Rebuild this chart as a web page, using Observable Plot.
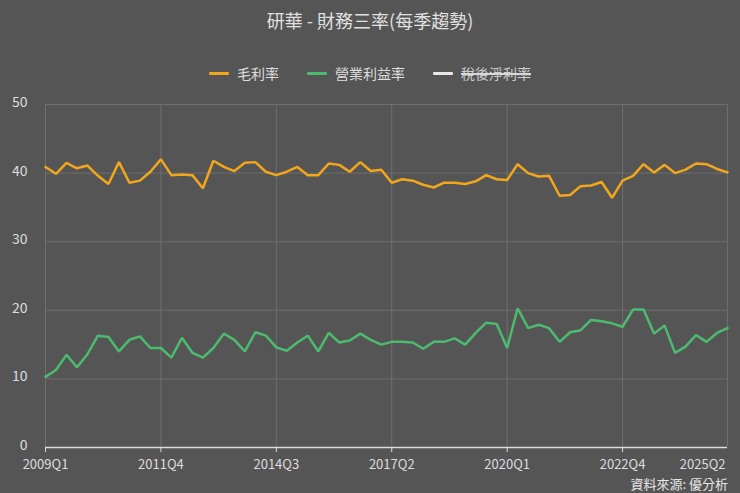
<!DOCTYPE html>
<html>
<head>
<meta charset="utf-8">
<script src="https://cdn.jsdelivr.net/npm/d3@7"></script>
<script src="https://cdn.jsdelivr.net/npm/@observablehq/plot@0.6"></script>
<style>
  html, body { margin: 0; padding: 0; background: #555555; }
  body { width: 740px; height: 493px; overflow: hidden; position: relative;
         font-family: "Noto Sans CJK TC", "Noto Sans", sans-serif; color: #dddddd; }
  #title { position: absolute; left: 0; top: 6px; width: 740px; text-align: center;
           font-size: 18px; line-height: 28px; color: #e0e0e0; }
  #legend { position: absolute; left: 0; top: 62px; width: 740px; display: flex;
            justify-content: center; align-items: center; font-size: 14px; line-height: 22px; }
  .item { display: flex; align-items: center; margin: 0 14px; }
  .swatch { width: 20px; height: 3px; border-radius: 1px; margin-right: 8px; }
  .off { position: relative; color: #cfcfcf; }
  .off::after { content: ""; position: absolute; left: 0; right: 0; top: 11px; height: 1.5px; background: #d8d8d8; }
  #chart { position: absolute; left: 0; top: 90px; }
  #caption { position: absolute; right: 12px; top: 475px; font-size: 13px; line-height: 18px; color: #e6e6e6; }
</style>
</head>
<body>
<div id="title"></div>
<div id="legend"></div>
<div id="chart"></div>
<div id="caption"></div>
<script>
const titleText = "研華 - 財務三率(每季趨勢)";
const captionText = "資料來源: 優分析";
const seriesNames = ["毛利率", "營業利益率", "稅後淨利率"];
const seriesColors = ["#f2a71b", "#4cbb6f", "#e8e8e8"];
const seriesVisible = [true, true, false];

const quarters = [];
for (let y = 2009; y <= 2025; y++) for (let q = 1; q <= 4; q++) {
  if (y === 2025 && q > 2) break;
  quarters.push(y + "Q" + q);
}

const grossMargin = [
  40.9, 39.9, 41.5, 40.7, 41.1, 39.6, 38.4, 41.6, 38.6, 38.9,
  40.2, 42.0, 39.7, 39.8, 39.7, 37.8, 41.8, 40.9, 40.3, 41.5,
  41.6, 40.2, 39.7, 40.2, 40.9, 39.7, 39.7, 41.4, 41.2, 40.2,
  41.6, 40.3, 40.5, 38.6, 39.1, 38.9, 38.3, 37.9, 38.6, 38.6,
  38.4, 38.8, 39.7, 39.1, 39.0, 41.3, 40.0, 39.5, 39.6, 36.7,
  36.8, 38.1, 38.2, 38.7, 36.4, 38.9, 39.6, 41.3, 40.1, 41.2,
  40.0, 40.5, 41.4, 41.3, 40.6, 40.1
];
const operatingMargin = [
  10.3, 11.3, 13.5, 11.7, 13.6, 16.3, 16.1, 14.0, 15.7, 16.2,
  14.5, 14.5, 13.1, 16.0, 13.8, 13.1, 14.5, 16.6, 15.7, 14.0,
  16.8, 16.3, 14.6, 14.1, 15.3, 16.3, 14.0, 16.7, 15.3, 15.6,
  16.6, 15.7, 15.0, 15.4, 15.4, 15.3, 14.4, 15.4, 15.4, 15.9,
  15.0, 16.7, 18.2, 18.0, 14.5, 20.3, 17.4, 17.9, 17.4, 15.4,
  16.8, 17.1, 18.6, 18.4, 18.1, 17.6, 20.1, 20.1, 16.6, 17.8,
  13.8, 14.7, 16.4, 15.4, 16.7, 17.4
];
const yTicks = [0, 10, 20, 30, 40, 50];
const xTickLabels = ["2009Q1", "2011Q4", "2014Q3", "2017Q2", "2020Q1", "2022Q4", "2025Q2"];

document.getElementById("title").textContent = titleText;
document.getElementById("caption").textContent = captionText;
const legend = document.getElementById("legend");
seriesNames.forEach((n, i) => {
  const it = document.createElement("div");
  it.className = "item";
  const sw = document.createElement("span");
  sw.className = "swatch";
  sw.style.background = seriesColors[i];
  const lb = document.createElement("span");
  lb.textContent = n;
  if (!seriesVisible[i]) lb.className = "off";
  it.appendChild(sw); it.appendChild(lb);
  legend.appendChild(it);
});

const rows = [];
quarters.forEach((q, i) => {
  rows.push({q, v: grossMargin[i], s: seriesNames[0]});
  rows.push({q, v: operatingMargin[i], s: seriesNames[1]});
});

const firstTicks = xTickLabels.slice(0, -1);
const lastTick = xTickLabels.slice(-1);

const chart = Plot.plot({
  width: 740,
  height: 403,
  marginTop: 14,
  marginBottom: 46,
  marginLeft: 45,
  marginRight: 13,
  style: { background: "transparent", color: "#dddddd", fontFamily: "\"Noto Sans CJK TC\", sans-serif", overflow: "visible" },
  x: { type: "point", domain: quarters, padding: 0 },
  y: { domain: [0, 50] },
  color: { domain: seriesNames, range: seriesColors },
  marks: [
    Plot.gridY(yTicks, { stroke: "#6e6e6e", strokeOpacity: 1, strokeWidth: 1 }),
    Plot.gridX(xTickLabels, { stroke: "#6e6e6e", strokeOpacity: 1, strokeWidth: 1 }),
    Plot.ruleY([0], { stroke: "#dcdcdc", strokeWidth: 1.5 }),
    Plot.axisY(yTicks, { tickSize: 0, tickPadding: 18, fontSize: 14, fill: "#dddddd", label: null, dy: -2 }),
    Plot.axisX(firstTicks, { tickSize: 5, tickPadding: 7, fontSize: 13, fill: "#dddddd", stroke: "#dcdcdc", label: null }),
    Plot.axisX(lastTick, { tickSize: 0, tickPadding: 12, fontSize: 13, fill: "#dddddd", textAnchor: "end", dx: -2, label: null }),
    Plot.line(rows, { x: "q", y: "v", z: "s", stroke: "s", strokeWidth: 2.5, strokeLinejoin: "miter", curve: "linear" })
  ]
});
document.getElementById("chart").appendChild(chart);
</script>
</body>
</html>
